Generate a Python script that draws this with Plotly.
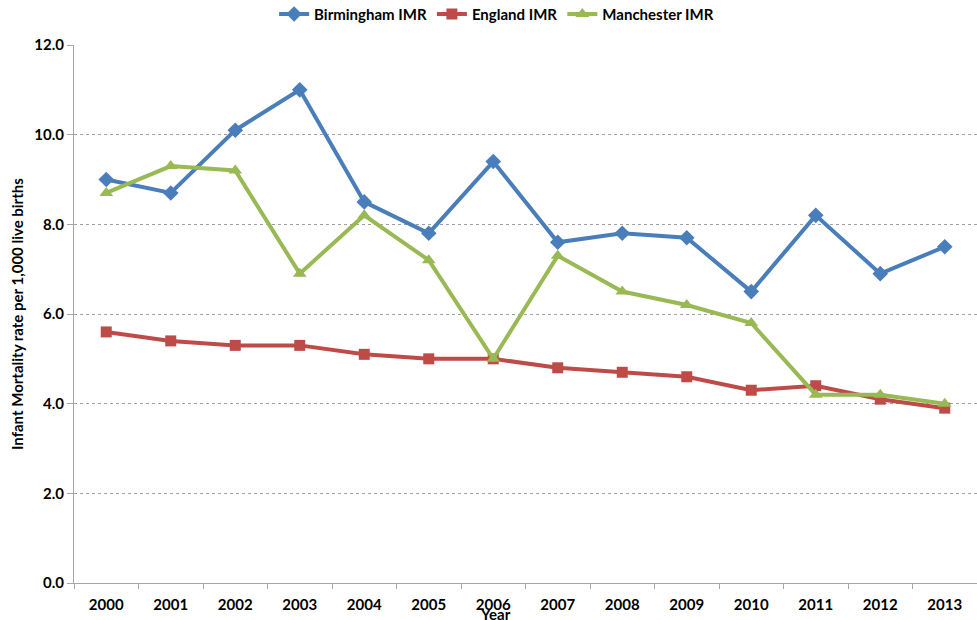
import plotly.graph_objects as go

years = ["2000", "2001", "2002", "2003", "2004", "2005", "2006",
         "2007", "2008", "2009", "2010", "2011", "2012", "2013"]
birmingham = [9.0, 8.7, 10.1, 11.0, 8.5, 7.8, 9.4, 7.6, 7.8, 7.7, 6.5, 8.2, 6.9, 7.5]
england = [5.6, 5.4, 5.3, 5.3, 5.1, 5.0, 5.0, 4.8, 4.7, 4.6, 4.3, 4.4, 4.1, 3.9]
manchester = [8.7, 9.3, 9.2, 6.9, 8.2, 7.2, 5.0, 7.3, 6.5, 6.2, 5.8, 4.2, 4.2, 4.0]

FONT = "Lato"
FS = 15
bold = dict(family=FONT, size=FS, color="black", weight="bold")

series = [
    ("Birmingham IMR", birmingham, "#4a7ebb", "diamond", 12),
    ("England IMR", england, "#be4b48", "square", 11),
    ("Manchester IMR", manchester, "#98b954", "triangle-up", 12),
]

fig = go.Figure()
for name, vals, color, sym, size in series:
    fig.add_trace(go.Scatter(
        x=years, y=vals, name=name, mode="lines+markers",
        line=dict(color=color, width=4),
        marker=dict(symbol=sym, size=size, color=color),
    ))

fig.update_layout(
    width=977, height=620,
    margin=dict(l=74, r=0, t=45, b=37, autoexpand=False),
    paper_bgcolor="white", plot_bgcolor="white",
    font=bold,
    legend=dict(orientation="h", x=0.468, xanchor="center",
                yref="container", y=0.977, yanchor="middle",
                font=bold, traceorder="normal"),
    xaxis=dict(
        type="category", range=[-0.5, 13.5],
        showline=True, linecolor="#a6a6a6", linewidth=1,
        ticks="outside", tickson="boundaries", ticklen=5, tickcolor="#a6a6a6",
        ticklabelstandoff=8,
        showgrid=False,
        tickfont=bold,
    ),
    yaxis=dict(
        range=[0, 12], dtick=2, tickformat=".1f",
        showline=True, linecolor="#a6a6a6", linewidth=1,
        ticks="outside", ticklen=6, tickcolor="#a6a6a6",
        showgrid=True, gridcolor="#a0a0a0", gridwidth=1, griddash="dot",
        zeroline=False,
        tickfont=bold,
    ),
)

# axis titles
fig.add_annotation(text="Infant Mortality rate per 1,000 live births",
                   xref="paper", yref="paper", x=-0.0631, y=0.5,
                   xanchor="center", yanchor="middle", textangle=-90,
                   showarrow=False, font=bold)
fig.add_annotation(text="Year", xref="paper", yref="paper", x=0.467, y=-0.058,
                   yanchor="middle", showarrow=False, font=bold)

fig.write_html("out.html")
